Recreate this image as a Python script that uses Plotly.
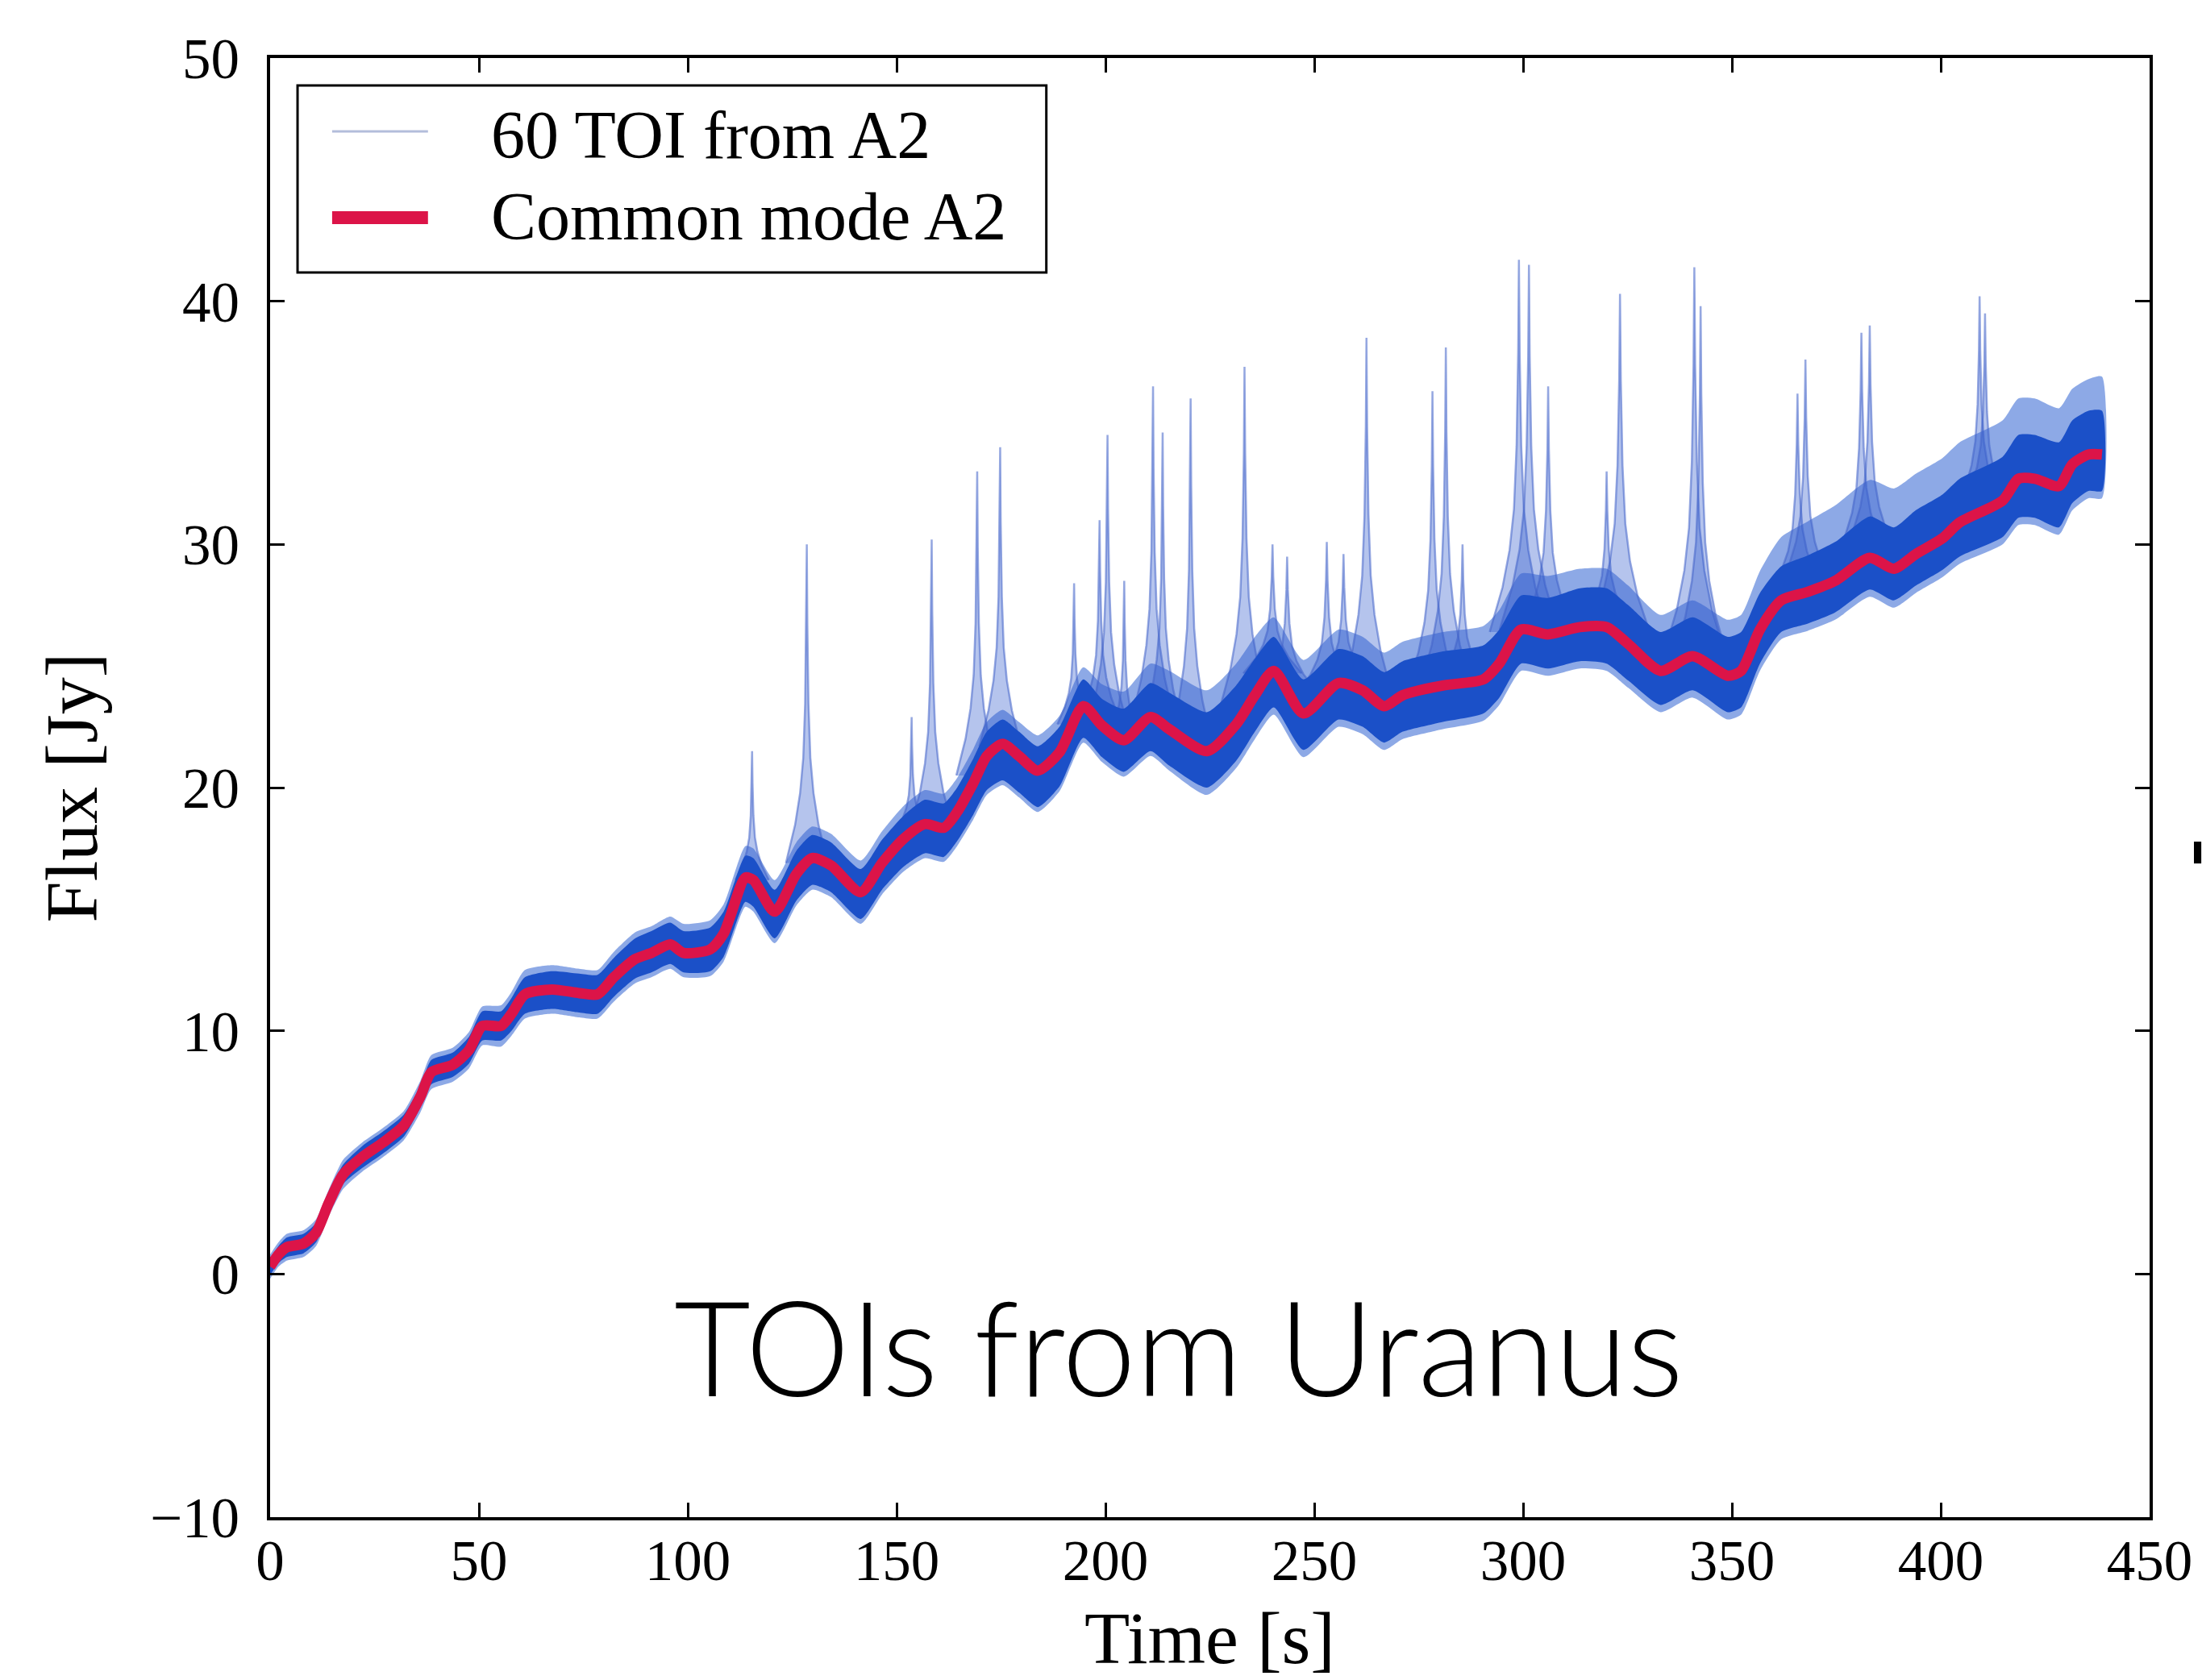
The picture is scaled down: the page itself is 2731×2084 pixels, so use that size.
import numpy as np
import plotly.graph_objects as go

# Common mode of detector array A2 (time in s, flux in Jy)
t_cm = [0, 2, 4, 8, 11, 14, 17.5, 22, 27, 32, 36, 38.6,
        43.7, 47.6, 50.8, 55.3, 57.8, 61,
        67.5, 74, 78.4, 82.3, 87.4, 91.3, 95.8, 99,
        105.4, 108.6, 113.8, 115.7, 120.8, 126, 129.8, 134.3, 141.4, 146.5, 151.7,
        156.8, 161.3, 164.5, 168.4, 171.6, 175.4, 179.3, 183.8, 189, 194.7, 199.2,
        204.4, 210.8, 215.3, 224.3, 231.3, 235.8, 240.3, 247.4, 255.8, 261.6, 266.7,
        271.2, 280.8, 290.5, 294.3, 299.5,
        305.9, 313.6, 320, 325.2, 332.9, 340.6, 349, 352.2, 356.7,
        361.8, 368.2, 374.7, 383, 388.8, 394, 400.4, 404.5, 414.8, 418.6, 422.5,
        428.3, 431.5, 435.4, 438.6]
v_cm = [0.3, 0.8, 1.1, 1.25, 1.7, 2.9, 4.1, 4.8, 5.4, 6.1, 7.3, 8.3,
        8.6, 9.2, 10.2, 10.2, 10.7, 11.5,
        11.7, 11.55, 11.5, 12.2, 12.95, 13.2, 13.55, 13.2,
        13.35, 14.0, 16.3, 16.2, 14.9, 16.45, 17.1, 16.8, 15.7, 16.9, 17.9,
        18.5, 18.35, 19.0, 20.2, 21.3, 21.8, 21.3, 20.7, 21.45, 23.35, 22.55,
        21.95, 22.9, 22.4, 21.5, 22.6, 23.8, 24.8, 23.05, 24.3, 24.0, 23.35,
        23.8, 24.2, 24.45, 25.1, 26.5,
        26.3, 26.6, 26.6, 25.9, 24.8, 25.4, 24.6, 24.8, 26.5,
        27.7, 28.05, 28.5, 29.45, 29.0, 29.6, 30.25, 30.9, 31.8, 32.7, 32.7,
        32.4, 33.3, 33.7, 33.7]

# Spread of the 60 individual TOIs around the common mode (Jy)
core_hi = [0.35, 0.35, 0.4, 0.4, 0.4, 0.4, 0.4, 0.45, 0.45, 0.45, 0.45, 0.5,
           0.5, 0.55, 0.6, 0.6, 0.65, 0.7,
           0.75, 0.8, 0.8, 0.8, 0.85, 0.9, 0.9, 0.9,
           0.9, 0.9, 0.9, 0.9, 0.9, 0.95, 0.95, 0.95, 0.95, 0.95, 0.95,
           1.0, 1.0, 1.0, 1.0, 1.0, 1.0, 1.0, 1.0, 1.05, 1.1, 1.1,
           1.3, 1.4, 1.5, 1.6, 1.6, 1.5, 1.4, 1.4, 1.4, 1.4, 1.4,
           1.4, 1.4, 1.4, 1.4, 1.4,
           1.5, 1.6, 1.6, 1.6, 1.6, 1.6, 1.6, 1.6, 1.5,
           1.4, 1.5, 1.6, 1.7, 1.7, 1.8, 1.8, 1.8, 1.8, 1.8, 1.8,
           1.8, 1.8, 1.8, 1.8]
core_lo = [0.35, 0.35, 0.4, 0.4, 0.4, 0.4, 0.4, 0.45, 0.45, 0.45, 0.45, 0.5,
           0.5, 0.55, 0.6, 0.6, 0.7, 0.8,
           0.8, 0.8, 0.8, 0.8, 0.8, 0.8, 0.8, 0.8,
           0.9, 0.95, 1.0, 1.1, 1.1, 1.1, 1.1, 1.1, 1.1, 1.1, 1.15,
           1.2, 1.2, 1.2, 1.3, 1.4, 1.5, 1.5, 1.5, 1.4, 1.3, 1.3,
           1.3, 1.4, 1.5, 1.5, 1.5, 1.5, 1.5, 1.5, 1.5, 1.5, 1.5,
           1.5, 1.5, 1.4, 1.4, 1.4,
           1.4, 1.4, 1.5, 1.5, 1.4, 1.4, 1.5, 1.5, 1.4,
           1.3, 1.3, 1.3, 1.3, 1.3, 1.3, 1.3, 1.4, 1.5, 1.6, 1.6,
           1.7, 1.6, 1.5, 1.5]
outer_hi = [0.5, 0.5, 0.55, 0.55, 0.55, 0.55, 0.6, 0.6, 0.6, 0.6, 0.65, 0.7,
            0.7, 0.75, 0.8, 0.85, 0.9, 1.0,
            1.0, 1.0, 1.0, 1.05, 1.1, 1.1, 1.15, 1.2,
            1.2, 1.2, 1.3, 1.3, 1.3, 1.3, 1.3, 1.3, 1.3, 1.3, 1.35,
            1.4, 1.4, 1.4, 1.4, 1.4, 1.4, 1.4, 1.45, 1.5, 1.6, 1.7,
            2.0, 2.2, 2.4, 2.5, 2.5, 2.4, 2.2, 2.2, 2.2, 2.2, 2.2,
            2.2, 2.2, 2.2, 2.2, 2.3,
            2.4, 2.4, 2.4, 2.4, 2.3, 2.3, 2.3, 2.3, 2.4,
            2.6, 2.9, 3.1, 3.2, 3.3, 3.3, 3.3, 3.3, 3.3, 3.3, 3.3,
            3.2, 3.1, 3.1, 3.2]
outer_lo = [0.5, 0.5, 0.55, 0.55, 0.55, 0.55, 0.6, 0.6, 0.6, 0.6, 0.65, 0.7,
            0.7, 0.75, 0.8, 0.85, 0.9, 1.0,
            1.0, 1.0, 1.0, 1.0, 1.0, 1.0, 1.0, 1.0,
            1.1, 1.15, 1.2, 1.3, 1.3, 1.3, 1.3, 1.3, 1.3, 1.3, 1.35,
            1.4, 1.4, 1.4, 1.5, 1.6, 1.7, 1.7, 1.7, 1.6, 1.5, 1.5,
            1.5, 1.6, 1.7, 1.8, 1.8, 1.8, 1.8, 1.8, 1.8, 1.8, 1.8,
            1.8, 1.8, 1.7, 1.7, 1.7,
            1.7, 1.7, 1.8, 1.8, 1.7, 1.7, 1.8, 1.8, 1.7,
            1.6, 1.6, 1.6, 1.6, 1.6, 1.6, 1.6, 1.7, 1.8, 1.9, 1.9,
            2.0, 1.9, 1.8, 1.8]

# Glitches seen by a subset of the TOIs: time, flux at the root of the glitch, peak flux, width
spike_t = [115.4, 128.5, 153.6, 158.4, 169.3, 174.8, 192.5, 198.6, 200.5, 204.5,
           211.4, 213.7, 220.4, 233.3, 240.0, 243.5, 253.0, 257.0, 262.5, 278.3,
           281.5, 285.5, 299.0, 301.4, 306.0, 320.0, 323.2, 341.0, 342.5, 365.7,
           367.6, 381.0, 383.0, 409.3, 410.6]
spike_base = [16.2, 16.9, 18.1, 18.4, 20.5, 21.7, 22.6, 22.7, 22.4, 21.95,
              22.85, 22.6, 21.9, 23.2, 24.7, 24.0, 23.9, 24.2, 23.9, 24.1,
              24.2, 24.3, 26.4, 26.5, 26.3, 26.6, 26.2, 25.4, 25.3, 27.9,
              28.0, 29.2, 29.45, 31.3, 31.4]
spike_peak = [21.5, 30.0, 22.9, 30.2, 33.0, 34.0, 28.4, 31.0, 34.5, 28.5,
              36.5, 34.6, 36.0, 37.3, 30.0, 29.5, 30.1, 29.6, 38.5, 36.3,
              38.1, 30.0, 41.7, 41.5, 36.5, 33.0, 40.3, 41.4, 39.8, 36.2,
              37.6, 38.7, 39.0, 40.2, 39.5]
spike_w = [0.8, 1.0, 0.8, 1.0, 1.0, 1.0, 0.8, 1.0, 1.0, 0.8,
           1.0, 0.9, 1.0, 1.2, 1.4, 1.4, 1.4, 1.4, 1.2, 1.2,
           1.2, 1.3, 1.4, 1.4, 1.3, 1.3, 1.5, 1.5, 1.3, 1.4,
           1.4, 1.4, 1.4, 1.2, 1.2]
# cusp profile of a glitch (offset in s, fraction of its height)
cusp_dt = [-5, -2.8, -1.6, -0.85, -0.4, -0.13, 0, 0.13, 0.4, 0.85, 1.6, 2.8, 5]
cusp_frac = [0, 0.12, 0.22, 0.33, 0.5, 0.75, 1, 0.75, 0.5, 0.33, 0.22, 0.12, 0]

x_ticks = [0, 50, 100, 150, 200, 250, 300, 350, 400, 450]
y_ticks = [-10, 0, 10, 20, 30, 40, 50]

SERIF = "Liberation Serif"
BLUE_CORE = "rgb(27,80,200)"
BLUE_OUTER = "rgba(48,98,210,0.55)"
RED = "#dc1448"

t = np.array(t_cm)
v = np.array(v_cm)

fig = go.Figure()


def band(hi, lo, color, name):
    up = v + np.array(hi)
    dn = v - np.array(lo)
    fig.add_trace(go.Scatter(
        x=np.concatenate([t, t[::-1]]), y=np.concatenate([up, dn[::-1]]),
        mode="lines", fill="toself", fillcolor=color,
        line=dict(width=0, shape="spline", smoothing=0.6),
        name=name, showlegend=False, hoverinfo="skip"))


# light envelope of all TOIs, then the glitches, then the dense bundle over their roots
band(outer_hi, outer_lo, BLUE_OUTER, "60 TOI from A2")

for ts, b, p, w in zip(spike_t, spike_base, spike_peak, spike_w):
    xs = [ts + d * w for d in cusp_dt]
    ys = [b + (p - b) * f for f in cusp_frac]
    fig.add_trace(go.Scatter(
        x=xs, y=ys, mode="lines", fill="toself",
        fillcolor="rgba(50,92,205,0.36)",
        line=dict(color="rgba(65,98,200,0.55)", width=2.5),
        name="60 TOI from A2", showlegend=False, hoverinfo="skip"))

band(core_hi, core_lo, BLUE_CORE, "60 TOI from A2")

fig.add_trace(go.Scatter(
    x=t_cm, y=v_cm, mode="lines", name="Common mode A2",
    line=dict(color=RED, width=13, shape="spline", smoothing=0.7),
    showlegend=False))

axis_common = dict(
    showline=True, linecolor="black", linewidth=3.5, mirror="ticks",
    ticks="inside", ticklen=18, tickwidth=3, tickcolor="black",
    showgrid=False, zeroline=False,
    tickfont=dict(family=SERIF, size=71, color="black"),
)

fig.update_xaxes(range=[0, 450], tickvals=x_ticks, ticklabelstandoff=-11,
                 title=dict(text="Time [s]", font=dict(family=SERIF, size=92, color="black"),
                            standoff=26),
                 **axis_common)
fig.update_yaxes(range=[-10, 50], tickvals=y_ticks, ticklabelstandoff=20,
                 title=dict(text="Flux [Jy]", font=dict(family=SERIF, size=92, color="black"),
                            standoff=36),
                 **axis_common)

# Legend box drawn by hand so the samples match the plotted line styles
shapes = [
    dict(type="rect", xref="paper", yref="paper", x0=0.0146, x1=0.4130, y0=0.8530, y1=0.9812,
         line=dict(color="black", width=3), fillcolor="white", layer="above"),
    dict(type="line", xref="paper", yref="paper", x0=0.0330, x1=0.0840, y0=0.9497, y1=0.9497,
         line=dict(color="rgba(160,172,210,0.8)", width=3), layer="above"),
    dict(type="line", xref="paper", yref="paper", x0=0.0330, x1=0.0840, y0=0.8906, y1=0.8906,
         line=dict(color=RED, width=16), layer="above"),
    dict(type="rect", xref="paper", yref="paper", x0=1.0236, x1=1.0275, y0=0.448, y1=0.463,
         line=dict(width=0), fillcolor="black", layer="above"),
]
annotations = [
    dict(text="60 TOI from A2", xref="paper", yref="paper", x=0.1165, y=0.9475,
         xanchor="left", yanchor="middle", showarrow=False,
         font=dict(family=SERIF, size=84, color="black")),
    dict(text="Common mode A2", xref="paper", yref="paper", x=0.1165, y=0.8917,
         xanchor="left", yanchor="middle", showarrow=False,
         font=dict(family=SERIF, size=84, color="black")),
    dict(text="TOIs from Uranus", xref="paper", yref="paper", x=0.4833, y=0.1177,
         xanchor="center", yanchor="middle", showarrow=False,
         font=dict(family="Lato", size=164, color="black", weight=300)),
]

fig.update_layout(
    width=2731, height=2084, autosize=False,
    margin=dict(l=335, r=62, t=72, b=202),
    paper_bgcolor="white", plot_bgcolor="white",
    font=dict(family=SERIF, color="black"),
    shapes=shapes, annotations=annotations,
    showlegend=False,
)

fig.write_html("out.html")
